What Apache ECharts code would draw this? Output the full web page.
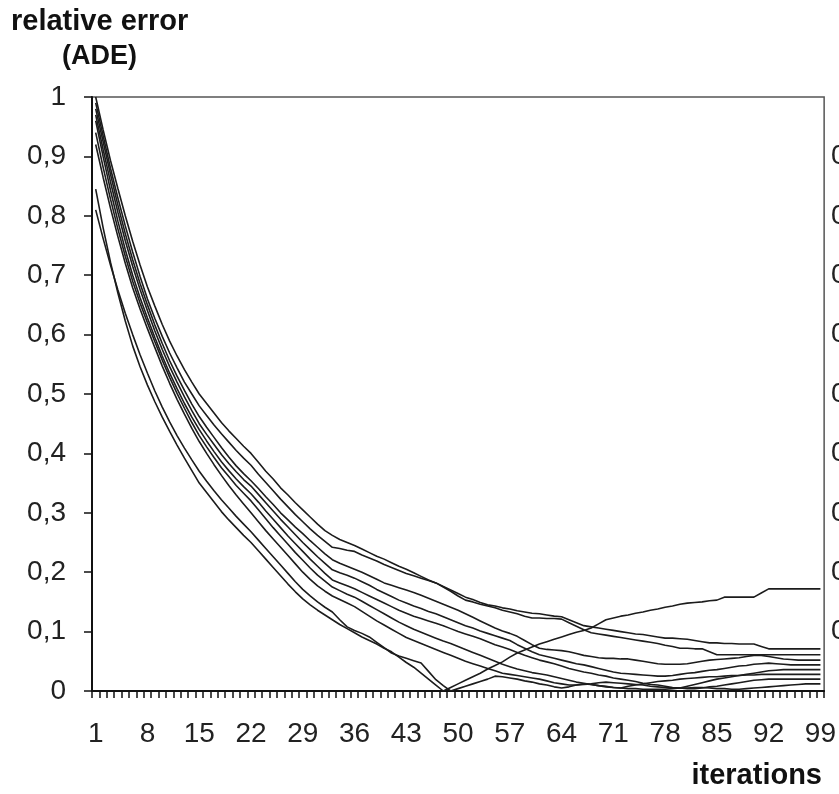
<!DOCTYPE html>
<html>
<head>
<meta charset="utf-8">
<script src="https://cdn.jsdelivr.net/npm/echarts@6/dist/echarts.min.js"></script>
<style>html,body{margin:0;padding:0;background:#fff}#c{width:839px;height:794px}</style>
</head>
<body>
<div id="c"></div>
<script>
// iterations 1..99
const iterations = Array.from({length: 99}, (_, i) => String(i + 1));
const yTickLabels = ['0','0,1','0,2','0,3','0,4','0,5','0,6','0,7','0,8','0,9','1'];

const run1 = [1.000,0.945,0.893,0.846,0.800,0.757,0.717,0.680,0.648,0.617,
0.589,0.564,0.541,0.520,0.500,0.484,0.468,0.452,0.438,0.425,
0.412,0.400,0.385,0.370,0.357,0.342,0.330,0.317,0.305,0.293,
0.281,0.270,0.262,0.255,0.250,0.245,0.239,0.233,0.227,0.222,
0.216,0.210,0.205,0.199,0.193,0.187,0.182,0.176,0.170,0.164,
0.158,0.154,0.149,0.145,0.143,0.140,0.138,0.135,0.133,0.131,
0.130,0.128,0.126,0.125,0.120,0.115,0.110,0.108,0.106,0.104,
0.102,0.100,0.098,0.096,0.095,0.093,0.091,0.089,0.089,0.088,
0.087,0.085,0.083,0.081,0.081,0.080,0.080,0.079,0.079,0.079,
0.075,0.071,0.071,0.071,0.071,0.071,0.071,0.071,0.071];

const run2 = [0.990,0.935,0.880,0.830,0.783,0.739,0.698,0.660,0.627,0.597,
0.569,0.544,0.520,0.500,0.480,0.464,0.448,0.433,0.419,0.405,
0.392,0.380,0.365,0.351,0.337,0.323,0.310,0.297,0.285,0.273,
0.262,0.252,0.242,0.240,0.237,0.235,0.229,0.224,0.219,0.213,
0.208,0.203,0.198,0.194,0.190,0.186,0.182,0.175,0.168,0.160,
0.153,0.150,0.146,0.143,0.140,0.136,0.133,0.130,0.126,0.123,
0.123,0.122,0.122,0.121,0.115,0.109,0.103,0.098,0.096,0.094,
0.092,0.090,0.088,0.086,0.084,0.082,0.080,0.077,0.075,0.072,
0.072,0.071,0.071,0.066,0.061,0.061,0.061,0.061,0.061,0.061,
0.061,0.061,0.061,0.061,0.061,0.061,0.061,0.061,0.061];

const run3 = [0.980,0.925,0.870,0.818,0.770,0.726,0.686,0.650,0.616,0.585,
0.556,0.530,0.506,0.483,0.462,0.444,0.427,0.410,0.394,0.379,
0.366,0.354,0.341,0.327,0.314,0.300,0.288,0.276,0.265,0.253,
0.242,0.231,0.221,0.215,0.210,0.205,0.200,0.194,0.188,0.182,
0.178,0.174,0.170,0.166,0.161,0.156,0.151,0.146,0.141,0.136,
0.130,0.124,0.118,0.112,0.106,0.101,0.097,0.092,0.085,0.078,
0.072,0.070,0.069,0.068,0.066,0.063,0.060,0.058,0.056,0.055,
0.055,0.054,0.054,0.052,0.050,0.048,0.046,0.045,0.045,0.045,
0.046,0.048,0.050,0.052,0.053,0.054,0.055,0.056,0.058,0.060,
0.060,0.058,0.056,0.054,0.053,0.052,0.052,0.052,0.052];

const run4 = [0.970,0.912,0.857,0.806,0.758,0.715,0.676,0.640,0.606,0.575,
0.546,0.520,0.495,0.472,0.450,0.432,0.415,0.398,0.383,0.369,
0.356,0.345,0.331,0.317,0.303,0.289,0.276,0.263,0.250,0.238,
0.226,0.215,0.204,0.199,0.195,0.190,0.184,0.178,0.171,0.165,
0.159,0.153,0.148,0.143,0.139,0.134,0.130,0.125,0.120,0.115,
0.110,0.106,0.101,0.097,0.093,0.089,0.085,0.078,0.072,0.066,
0.061,0.058,0.055,0.052,0.049,0.046,0.044,0.041,0.038,0.035,
0.032,0.030,0.029,0.028,0.027,0.026,0.025,0.025,0.026,0.028,
0.030,0.031,0.033,0.035,0.036,0.038,0.040,0.042,0.043,0.045,
0.046,0.047,0.046,0.045,0.044,0.044,0.044,0.044,0.044];

const run5 = [0.960,0.900,0.843,0.791,0.743,0.700,0.662,0.628,0.595,0.564,
0.535,0.509,0.484,0.461,0.440,0.421,0.403,0.386,0.371,0.357,
0.344,0.332,0.318,0.303,0.289,0.275,0.261,0.248,0.235,0.222,
0.210,0.198,0.187,0.182,0.177,0.172,0.166,0.160,0.154,0.148,
0.142,0.136,0.131,0.126,0.122,0.118,0.114,0.110,0.105,0.100,
0.096,0.092,0.088,0.083,0.078,0.074,0.070,0.065,0.060,0.056,
0.052,0.049,0.046,0.042,0.038,0.035,0.032,0.030,0.027,0.025,
0.022,0.020,0.018,0.016,0.013,0.011,0.010,0.008,0.006,0.005,
0.008,0.011,0.014,0.017,0.020,0.022,0.024,0.026,0.028,0.030,
0.032,0.034,0.035,0.036,0.036,0.036,0.036,0.036,0.036];

const run6 = [0.940,0.882,0.828,0.778,0.732,0.690,0.653,0.620,0.588,0.557,
0.528,0.501,0.476,0.452,0.430,0.411,0.393,0.376,0.361,0.346,
0.333,0.320,0.305,0.290,0.275,0.261,0.247,0.233,0.220,0.207,
0.195,0.185,0.175,0.169,0.163,0.158,0.151,0.144,0.137,0.130,
0.123,0.116,0.110,0.104,0.099,0.094,0.089,0.084,0.080,0.075,
0.070,0.065,0.060,0.055,0.050,0.045,0.041,0.037,0.034,0.031,
0.029,0.027,0.024,0.021,0.018,0.015,0.013,0.011,0.009,0.007,
0.006,0.005,0.008,0.010,0.012,0.014,0.016,0.017,0.018,0.020,
0.021,0.022,0.023,0.024,0.024,0.025,0.026,0.026,0.027,0.027,
0.028,0.028,0.028,0.028,0.028,0.028,0.028,0.028,0.028];

const run7 = [0.920,0.865,0.813,0.765,0.720,0.679,0.643,0.610,0.578,0.547,
0.518,0.491,0.466,0.442,0.420,0.400,0.381,0.363,0.346,0.330,
0.315,0.300,0.285,0.270,0.256,0.242,0.228,0.214,0.200,0.188,
0.177,0.168,0.160,0.154,0.148,0.142,0.134,0.126,0.118,0.111,
0.104,0.097,0.090,0.085,0.080,0.075,0.070,0.065,0.060,0.055,
0.050,0.046,0.042,0.038,0.034,0.030,0.028,0.026,0.024,0.022,
0.020,0.017,0.014,0.012,0.010,0.010,0.011,0.012,0.014,0.015,
0.014,0.013,0.012,0.011,0.010,0.008,0.007,0.006,0.005,0.005,
0.004,0.004,0.005,0.007,0.008,0.010,0.012,0.014,0.016,0.018,
0.019,0.020,0.020,0.020,0.020,0.020,0.020,0.020,0.020];

const run8 = [0.810,0.762,0.717,0.675,0.636,0.600,0.566,0.535,0.505,0.478,
0.453,0.430,0.409,0.389,0.370,0.353,0.337,0.322,0.308,0.294,
0.281,0.268,0.254,0.240,0.226,0.212,0.198,0.184,0.171,0.160,
0.150,0.141,0.133,0.120,0.108,0.102,0.097,0.091,0.082,0.073,
0.064,0.059,0.055,0.051,0.047,0.033,0.019,0.009,0.000,0.004,
0.008,0.012,0.016,0.020,0.025,0.024,0.022,0.020,0.017,0.015,
0.012,0.010,0.007,0.005,0.007,0.010,0.012,0.011,0.009,0.008,
0.006,0.005,0.004,0.004,0.003,0.003,0.003,0.003,0.004,0.005,
0.005,0.006,0.006,0.005,0.004,0.004,0.003,0.003,0.004,0.005,
0.006,0.007,0.008,0.009,0.010,0.011,0.012,0.012,0.012];

const run9 = [0.845,0.780,0.722,0.670,0.623,0.581,0.546,0.515,0.487,0.461,
0.437,0.414,0.392,0.371,0.350,0.334,0.318,0.302,0.288,0.275,
0.262,0.250,0.236,0.222,0.208,0.194,0.180,0.167,0.155,0.145,
0.136,0.128,0.120,0.112,0.105,0.098,0.091,0.085,0.079,0.072,
0.066,0.057,0.048,0.040,0.030,0.020,0.010,0.000,0.006,0.012,
0.018,0.024,0.030,0.037,0.043,0.049,0.057,0.064,0.069,0.074,
0.079,0.083,0.087,0.091,0.095,0.099,0.102,0.106,0.113,0.120,
0.123,0.126,0.128,0.131,0.133,0.136,0.138,0.141,0.143,0.146,
0.148,0.149,0.150,0.152,0.153,0.158,0.158,0.158,0.158,0.158,
0.165,0.172,0.172,0.172,0.172,0.172,0.172,0.172,0.172];

const runs = [run1, run2, run3, run4, run5, run6, run7, run8, run9];

const FONT = '"Liberation Sans", Arial, sans-serif';
const chart = echarts.init(document.getElementById('c'), null, {renderer: 'canvas'});

const yLabelFmt = v => yTickLabels[Math.round(v * 10)];

chart.setOption({
  animation: false,
  backgroundColor: '#fff',
  title: [
    {text: 'relative error', left: 6, top: 2, textStyle: {fontFamily: FONT, fontWeight: 'bold', fontSize: 29, color: '#111'}},
    {text: '(ADE)', left: 57, top: 38, textStyle: {fontFamily: FONT, fontWeight: 'bold', fontSize: 27, color: '#111'}},
    {text: 'iterations', right: 12, top: 756, textStyle: {fontFamily: FONT, fontWeight: 'bold', fontSize: 29, color: '#111'}}
  ],
  grid: [
    {left: 92, right: 13, top: 97, bottom: 103, show: true, borderColor: '#555', borderWidth: 1.5, backgroundColor: 'transparent'},
    {left: 873, width: 60, top: 97, bottom: 103, show: false}
  ],
  xAxis: [
    {
      type: 'category', gridIndex: 0, data: iterations, boundaryGap: true,
      axisLine: {lineStyle: {color: '#111', width: 2}},
      axisTick: {show: true, interval: 0, length: 7, lineStyle: {color: '#111', width: 1.5}},
      axisLabel: {interval: 6, margin: 29, fontFamily: FONT, fontSize: 28, color: '#222'},
      splitLine: {show: false}
    },
    {type: 'category', gridIndex: 1, data: iterations, show: false}
  ],
  yAxis: [
    {
      type: 'value', gridIndex: 0, min: 0, max: 1, interval: 0.1,
      axisLine: {show: true, lineStyle: {color: '#111', width: 2}},
      axisTick: {show: true, length: 8, lineStyle: {color: '#111', width: 1.5}},
      axisLabel: {margin: 26, fontFamily: FONT, fontSize: 28, color: '#222', formatter: yLabelFmt},
      splitLine: {show: false}
    },
    {
      type: 'value', gridIndex: 1, min: 0, max: 1, interval: 0.1,
      axisLine: {show: false}, axisTick: {show: false}, splitLine: {show: false},
      axisLabel: {margin: 3, fontFamily: FONT, fontSize: 28, color: '#222', formatter: yLabelFmt}
    }
  ],
  series: runs.map((r, k) => ({
    name: 'run ' + (k + 1),
    type: 'line',
    xAxisIndex: 0, yAxisIndex: 0,
    data: r,
    showSymbol: false,
    symbol: 'none',
    smooth: false,
    lineStyle: {color: '#1c1c1c', width: 1.6},
    z: 3
  }))
});
</script>
</body>
</html>
